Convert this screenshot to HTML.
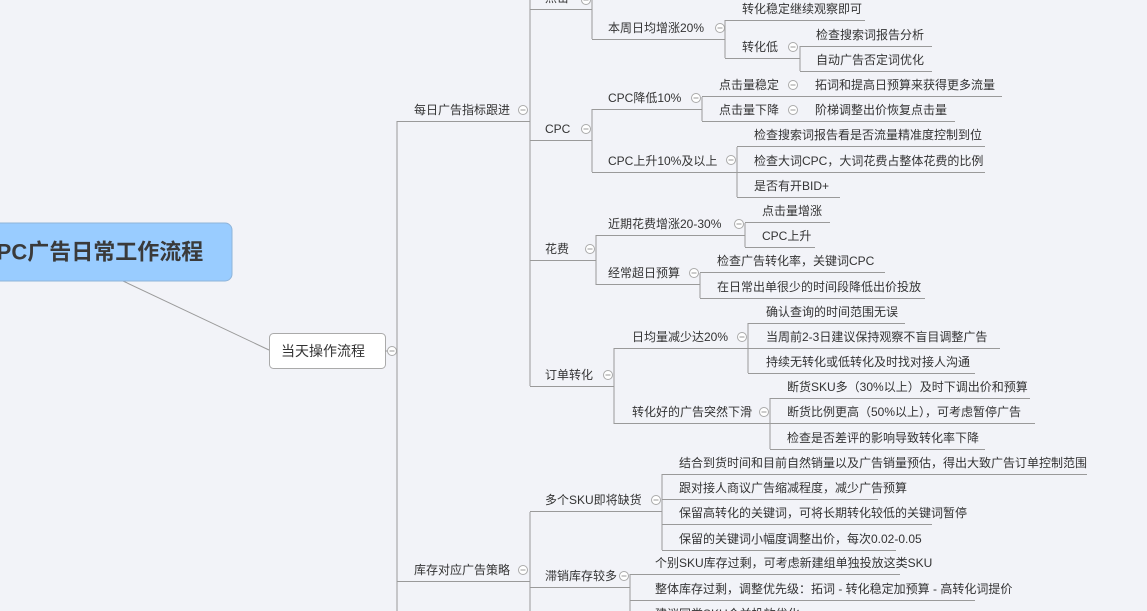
<!DOCTYPE html>
<html><head><meta charset="utf-8"><style>
html,body{margin:0;padding:0;background:#f2f3f8;width:1147px;height:611px;overflow:hidden}
svg{position:absolute;left:0;top:0}
text{font-family:"Liberation Sans","Noto Sans CJK SC",sans-serif;font-size:12px;fill:#333;dominant-baseline:central}
.l{stroke:#9a9a9a;stroke-width:1;fill:none}
.c{stroke:#aaa;fill:#fff}
</style></head><body>
<svg width="1147" height="611" viewBox="0 0 1147 611">
<line class="l" x1="123" y1="281" x2="269" y2="350"/>
<rect x="-12" y="223" width="244" height="58" rx="7" fill="#99ccff" stroke="#8fb4d9"/>
<text x="-18" y="252" style="font-size:22px;font-weight:bold;fill:#3a3a3a">PPC广告日常工作流程</text>
<rect x="269.5" y="333.5" width="116" height="35" rx="4" fill="#fff" stroke="#aaa"/>
<text x="281" y="351" style="font-size:14px">当天操作流程</text>
</svg>
<script>
const s=document.querySelector('svg');const NS='http://www.w3.org/2000/svg';
function el(t,a){const e=document.createElementNS(NS,t);for(const k in a)e.setAttribute(k,a[k]);s.appendChild(e);return e}
function L(x1,y1,x2,y2){el('line',{class:'l',x1,y1,x2,y2})}
function C(x,y){el('circle',{class:'c',cx:x,cy:y,r:4.5});el('line',{x1:x-2.5,y1:y,x2:x+2.5,y2:y,stroke:'#999'})}
function T(x,y,t){const e=el('text',{x,y});e.textContent=t}
function N(x,cy,t,u1,u2){T(x,cy,t);L(u1,cy+11.5,u2,cy+11.5)}
function V(x,y1,y2){L(x,y1,x,y2)}
L(385,351,397,351);C(392,351);V(397,121,611);
N(414,110,'每日广告指标跟进',397,530);C(523,110);
N(414,570,'库存对应广告策略',397,530);C(523,570);
V(530,0,386);
N(545,-2,'点击',530,592);C(586,0);
V(592,0,39);
N(608,28,'本周日均增涨20%',592,725);C(720,28);
V(725,20,58);
N(742,9,'转化稳定继续观察即可',725,865);
N(742,47,'转化低',725,800);C(793,47);
V(800,46,71);
N(816,35,'检查搜索词报告分析',800,932);
N(816,60,'自动广告否定词优化',800,932);
N(545,129,'CPC',530,592);C(586,129);
V(592,109,172);
N(608,98,'CPC降低10%',592,702);C(696,98);
V(702,97,121);
N(719,85,'点击量稳定',702,800);C(793,85);
N(815,85,'拓词和提高日预算来获得更多流量',800,1002);
N(719,110,'点击量下降',702,800);C(793,110);
N(815,110,'阶梯调整出价恢复点击量',800,955);
N(608,161,'CPC上升10%及以上',592,737);C(731,160);
V(737,147,197);
N(754,135,'检查搜索词报告看是否流量精准度控制到位',737,985);
N(754,161,'检查大词CPC，大词花费占整体花费的比例',737,985);
N(754,186,'是否有开BID+',737,840);
N(545,249,'花费',530,596);C(590,249);
V(596,235,285);
N(608,224,'近期花费增涨20-30%',596,745);C(739,224);
V(745,223,247);
N(762,211,'点击量增涨',745,830);
N(762,236,'CPC上升',745,815);
N(608,273,'经常超日预算',596,700);C(694,273);
V(700,273,298);
N(717,261,'检查广告转化率，关键词CPC',700,885);
N(717,287,'在日常出单很少的时间段降低出价投放',700,925);
N(545,375,'订单转化',530,614);C(608,375);
V(614,348,424);
N(632,337,'日均量减少达20%',614,748);C(742,337);
V(748,323,373);
N(766,312,'确认查询的时间范围无误',748,905);
N(766,337,'当周前2-3日建议保持观察不盲目调整广告',748,1000);
N(766,362,'持续无转化或低转化及时找对接人沟通',748,975);
N(632,412,'转化好的广告突然下滑',614,770);C(764,412);
V(770,398,449);
N(787,387,'断货SKU多（30%以上）及时下调出价和预算',770,1030);
N(787,412,'断货比例更高（50%以上），可考虑暂停广告',770,1035);
N(787,438,'检查是否差评的影响导致转化率下降',770,985);
V(530,512,611);
N(545,500,'多个SKU即将缺货',530,662);C(656,500);
V(662,474,550);
N(679,463,'结合到货时间和目前自然销量以及广告销量预估，得出大致广告订单控制范围',662,1087);
N(679,488,'跟对接人商议广告缩减程度，减少广告预算',662,878);
N(679,513,'保留高转化的关键词，可将长期转化较低的关键词暂停',662,932);
N(679,539,'保留的关键词小幅度调整出价，每次0.02-0.05',662,896);
N(545,576,'滞销库存较多',530,630);C(624,576);
V(630,574,611);
N(655,563,'个别SKU库存过剩，可考虑新建组单独投放这类SKU',630,900);
N(655,589,'整体库存过剩，调整优先级：拓词 - 转化稳定加预算 - 高转化词提价',630,975);
T(655,614,'建议同类SKU合并投放优化');
</script>
</body></html>
